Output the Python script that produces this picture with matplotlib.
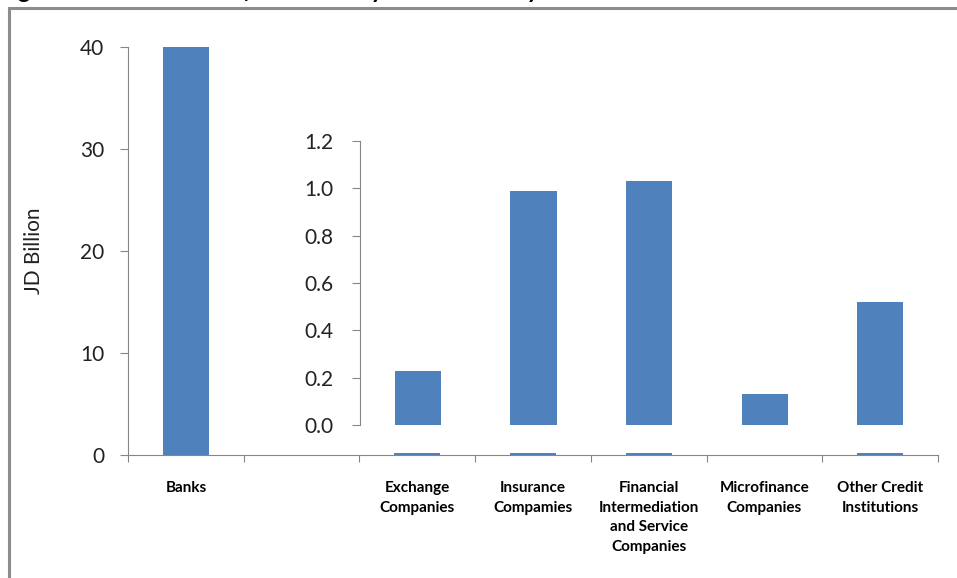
import matplotlib
matplotlib.use("Agg")
import matplotlib.pyplot as plt
from matplotlib.patches import Rectangle

plt.rcParams['font.family'] = ['Lato', 'DejaVu Sans']

# main axis: Banks dwarfs everything, the other institutions sit near zero
main_labels = ['Banks', '', 'Exchange\nCompanies', 'Insurance\nCompamies',
               'Financial\nIntermediation\nand Service\nCompanies',
               'Microfinance\nCompanies', 'Other Credit\nInstitutions']
main_values = [40.1, 0, 0.2, 0.2, 0.2, 0, 0.2]

# inset: the non-bank institutions on their own scale
inset_values = [0.23, 0.99, 1.03, 0.13, 0.52]
inset_ticks = [0.0, 0.2, 0.4, 0.6, 0.8, 1.0, 1.2]
main_ticks = [0, 10, 20, 30, 40]

bar_color = '#4F81BD'
axis_grey = '#868686'

fig = plt.figure(figsize=(9.57, 5.78), dpi=100)

# outer frame (runs off the right and bottom edges)
fig.patches.append(Rectangle((0.009, -0.05), 1.2, 0.0366 + 1.0, transform=fig.transFigure,
                             fill=False, edgecolor='#8c8c8c', linewidth=2.2))
fig.text(0.0, 1.003, 'Figure 3: Distribution of Financial System Assets by Institution in 2013',
         fontsize=18, fontweight='bold', fontstyle='italic', va='baseline', ha='left')

ax = fig.add_axes([0.1338, 0.2128, 0.8463, 0.7059])
x = range(len(main_values))
ax.bar(x, main_values, width=0.4, color=bar_color)
ax.set_xlim(-0.5, len(main_values) - 0.5)
ax.set_ylim(0, 40)
ax.set_yticks(main_ticks)
ax.tick_params(axis='y', labelsize=15, length=6, color=axis_grey, pad=11, labelcolor='#222222')
ax.set_xticks([i - 0.5 for i in range(len(main_values) + 1)])
ax.set_xticklabels([])
ax.tick_params(axis='x', which='major', length=5, color=axis_grey, direction='out')
ax.set_xticks(list(x), minor=True)
ax.set_xticklabels(main_labels, minor=True, fontsize=11, fontweight='bold',
                   linespacing=1.5, va='top')
ax.tick_params(axis='x', which='minor', length=0, pad=19)
for s in ['top', 'right']:
    ax.spines[s].set_visible(False)
for s in ['left', 'bottom']:
    ax.spines[s].set_color(axis_grey)
ax.set_ylabel('JD Billion', fontsize=15, color='#222222', labelpad=26)

ins = fig.add_axes([0.3762, 0.2647, 0.6040, 0.4913])
ins.patch.set_alpha(0)
ins.bar(range(len(inset_values)), inset_values, width=0.4, color=bar_color)
ins.set_xlim(-0.5, len(inset_values) - 0.5)
ins.set_ylim(0, 1.2)
ins.set_yticks(inset_ticks)
ins.set_yticklabels(['%.1f' % t for t in inset_ticks])
ins.set_xticks([])
ins.tick_params(axis='y', labelsize=15, length=6, color=axis_grey, pad=13, labelcolor='#222222')
for s in ['top', 'right', 'bottom']:
    ins.spines[s].set_visible(False)
ins.spines['left'].set_color(axis_grey)

fig.savefig('out.png', dpi=100)
